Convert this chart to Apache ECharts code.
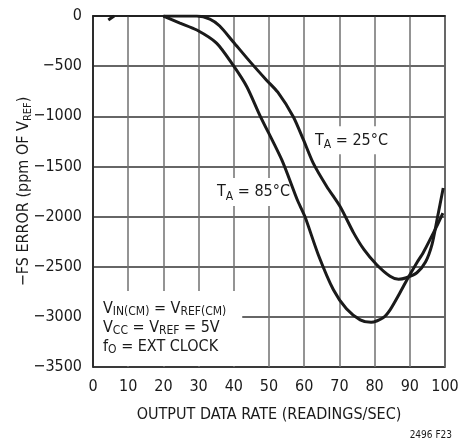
<!DOCTYPE html>
<html>
<head>
<meta charset="utf-8">
<script src="https://cdn.jsdelivr.net/npm/echarts@6/dist/echarts.min.js"></script>
<style>
  html, body { margin: 0; padding: 0; background: #fff; }
  #chart { width: 473px; height: 441px; }
</style>
</head>
<body>
<div id="chart"></div>
<script>
// readings/sec vs -FS error (ppm of Vref)
const xTicks = [0, 10, 20, 30, 40, 50, 60, 70, 80, 90, 100];
const yTicks = [0, -500, -1000, -1500, -2000, -2500, -3000, -3500];

const rate25 = [20, 29.5, 33.2, 36, 39.8, 44.6, 49.3, 52.5, 56.9, 59.8, 62.6, 66.4, 70.2, 74, 77, 80.6, 84.4, 86.8, 89, 92, 94.5, 96.3, 97.8, 99.5];
const err25 = [0, 0, -30, -100, -256, -455, -640, -760, -1004, -1236, -1470, -1700, -1900, -2160, -2330, -2480, -2595, -2625, -2610, -2560, -2450, -2280, -2020, -1715];

const rate85 = [20, 24.7, 29.5, 35.1, 39.8, 43.7, 47.4, 53.7, 58, 60.2, 64, 68.3, 72, 75.9, 79, 82.4, 84.4, 87.2, 89.2, 92, 93.8, 97.6, 99.4];
const err85 = [0, -70, -140, -270, -490, -705, -990, -1440, -1830, -2000, -2380, -2730, -2920, -3030, -3055, -3010, -2930, -2760, -2630, -2460, -2360, -2100, -1965];

// short stub near the top-left corner
const rateLow = [4.35, 6.0];
const errLow = [-40, 0];

const pair = (xs, ys) => xs.map((x, i) => [x, ys[i]]);

const FONT = '"Liberation Sans Narrow", "DejaVu Sans Condensed", sans-serif';
const INK = '#1a1a1a';

const chart = echarts.init(document.getElementById('chart'));

const lineStyle = { color: INK, width: 3 };
const baseSeries = (name, data) => ({
  name: name,
  type: 'line',
  data: data,
  smooth: 0.25,
  showSymbol: false,
  symbol: 'none',
  lineStyle: lineStyle,
  z: 3
});

chart.setOption({
  animation: false,
  grid: {
    left: 93, right: 28, top: 16, bottom: 74,
    outerBoundsMode: 'none', containLabel: false,
    show: true, borderColor: INK, borderWidth: 1.5
  },
  xAxis: {
    type: 'value',
    min: xTicks[0],
    max: xTicks[xTicks.length - 1],
    interval: 10,
    name: 'OUTPUT DATA RATE (READINGS/SEC)',
    nameLocation: 'middle',
    nameGap: 40,
    nameMoveOverlap: false,
    nameTextStyle: { fontFamily: FONT, fontSize: 16, color: INK },
    axisLine: { lineStyle: { color: INK, width: 1.5 } },
    axisTick: { show: false },
    axisLabel: { fontFamily: FONT, fontSize: 16, color: INK, margin: 12 },
    splitLine: { show: true, lineStyle: { color: '#707070', width: 1.5 } }
  },
  yAxis: {
    type: 'value',
    min: yTicks[yTicks.length - 1],
    max: yTicks[0],
    interval: 500,
    name: '{a|−FS ERROR (ppm OF V}{s|REF}{a|)}',
    nameLocation: 'middle',
    nameGap: 59,
    nameMoveOverlap: false,
    nameRotate: 90,
    nameTextStyle: {
      fontFamily: FONT, fontSize: 16, color: INK,
      rich: {
        a: { fontFamily: FONT, fontSize: 16, color: INK, lineHeight: 20, verticalAlign: 'middle' },
        s: { fontFamily: FONT, fontSize: 11, color: INK, lineHeight: 11, verticalAlign: 'bottom' }
      }
    },
    axisLine: { show: true, lineStyle: { color: INK, width: 1.5 } },
    axisTick: { show: false },
    axisLabel: {
      fontFamily: FONT, fontSize: 16, color: INK, margin: 11,
      formatter: v => (v < 0 ? '−' + Math.abs(v) : String(v))
    },
    splitLine: { show: true, lineStyle: { color: '#333', width: 1.5 } }
  },
  series: [
    baseSeries('TA = 25°C', pair(rate25, err25)),
    baseSeries('TA = 85°C', pair(rate85, err85)),
    baseSeries('low', pair(rateLow, errLow))
  ]
});

// annotations, anchored in data coordinates
const rich = {
  m: { fontFamily: FONT, fontSize: 16, fill: INK, lineHeight: 22, verticalAlign: 'middle' },
  s: { fontFamily: FONT, fontSize: 12, fill: INK, lineHeight: 12, verticalAlign: 'bottom' }
};
const at = (x, y) => chart.convertToPixel({ gridIndex: 0 }, [x, y]);

const p25 = at(62.5, -1240);
const p85 = at(34.1, -1755);
const pNote = at(0, -3500);

chart.setOption({
  graphic: [
    {
      type: 'text', z: 1, x: p25[0], y: p25[1],
      style: {
        text: '{m|T}{s|A}{m| = 25°C}', rich: rich,
        verticalAlign: 'middle', align: 'left',
        backgroundColor: '#fff', padding: [3, 4, 3, 2]
      }
    },
    {
      type: 'text', z: 1, x: p85[0], y: p85[1],
      style: {
        text: '{m|T}{s|A}{m| = 85°C}', rich: rich,
        verticalAlign: 'middle', align: 'left',
        backgroundColor: '#fff', padding: [3, 2, 3, 4]
      }
    },
    {
      type: 'text', z: 1, x: pNote[0] + 1, y: pNote[1] - 1,
      style: {
        text: '{m|V}{s|IN(CM)}{m| = V}{s|REF(CM)}\n{m|V}{s|CC}{m| = V}{s|REF}{m| = 5V}\n{m|f}{s|O}{m| = EXT CLOCK}',
        rich: {
          m: { fontFamily: FONT, fontSize: 16, fill: INK, lineHeight: 19, verticalAlign: 'middle' },
          s: { fontFamily: FONT, fontSize: 12, fill: INK, lineHeight: 12, verticalAlign: 'bottom' }
        },
        verticalAlign: 'bottom', align: 'left',
        backgroundColor: '#fff', padding: [8, 16, 10, 9]
      }
    },
    {
      type: 'text', right: 21, bottom: 1,
      style: { text: '2496 F23', fontFamily: FONT, fontSize: 10, fill: INK }
    }
  ]
});
</script>
</body>
</html>
